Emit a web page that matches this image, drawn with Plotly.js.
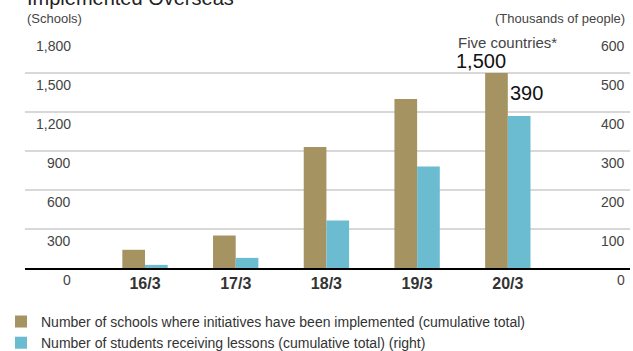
<!DOCTYPE html>
<html>
<head>
<meta charset="utf-8">
<script src="https://cdn.plot.ly/plotly-3.0.1.min.js"></script>
<style>html,body{margin:0;padding:0;background:#fff;}#chart{width:633px;height:351px;}</style>
</head>
<body>
<div id="chart"></div>
<script>
const categories = ['16/3', '17/3', '18/3', '19/3', '20/3'];
const schools = [140, 250, 930, 1300, 1500];
const students = [8, 26, 122, 260, 390];
const leftTicks = [0, 300, 600, 900, 1200, 1500, 1800];
const leftTickText = ['0', '300', '600', '900', '1,200', '1,500', '1,800'];
const rightTicks = [0, 100, 200, 300, 400, 500, 600];
const rightTickText = ['0', '100', '200', '300', '400', '500', '600'];
const schoolsName = 'Number of schools where initiatives have been implemented (cumulative total)';
const studentsName = 'Number of students receiving lessons (cumulative total) (right)';

const FONT = 'Liberation Sans, Arial, sans-serif';
const BROWN = '#a59462';
const BLUE = '#6bbcd0';

const traces = [
  {type: 'bar', x: categories, y: schools, name: schoolsName, marker: {color: BROWN},
   width: 0.25, offset: -0.25, yaxis: 'y', hoverinfo: 'skip'},
  {type: 'bar', x: categories, y: students, name: studentsName, marker: {color: BLUE},
   width: 0.25, offset: 0, yaxis: 'y2', hoverinfo: 'skip'}
];

const annotations = [];
leftTicks.forEach((v, i) => annotations.push({
  xref: 'paper', x: 0.0793, xanchor: 'right', yref: 'y', y: v, yanchor: 'middle', yshift: -12,
  text: leftTickText[i], showarrow: false, font: {family: FONT, size: 14, color: '#444'}
}));
rightTicks.forEach((v, i) => annotations.push({
  xref: 'paper', x: 0.995, xanchor: 'right', yref: 'y2', y: v, yanchor: 'middle', yshift: -12,
  text: rightTickText[i], showarrow: false, font: {family: FONT, size: 14, color: '#444'}
}));
annotations.push(
  {xref: 'paper', x: 0, xanchor: 'left', yref: 'paper', y: 1, yanchor: 'bottom', yshift: 23,
   text: 'Implemented Overseas', showarrow: false, font: {family: FONT, size: 20, color: '#222'}},
  {xref: 'paper', x: 0, xanchor: 'left', yref: 'paper', y: 1, yanchor: 'middle', yshift: 16,
   text: '(Schools)', showarrow: false, font: {family: FONT, size: 13, color: '#444'}},
  {xref: 'paper', x: 0.995, xanchor: 'right', yref: 'paper', y: 1, yanchor: 'middle', yshift: 16,
   text: '(Thousands of people)', showarrow: false, font: {family: FONT, size: 13, color: '#444'}},
  {xref: 'x', x: categories[4], xanchor: 'center', yref: 'y', y: schools[4], yanchor: 'middle', yshift: 31,
   text: 'Five countries*', showarrow: false, font: {family: FONT, size: 15, color: '#444'}},
  {xref: 'x', x: categories[4], xanchor: 'right', yref: 'y', y: schools[4], yanchor: 'bottom', yshift: -1,
   text: '1,500', showarrow: false, font: {family: FONT, size: 20, color: '#111'}},
  {xref: 'x', x: categories[4], xanchor: 'left', yref: 'y2', y: students[4], yanchor: 'bottom', yshift: 10,
   text: '390', showarrow: false, font: {family: FONT, size: 20, color: '#111'}}
);

const layout = {
  width: 633, height: 351,
  margin: {l: 25, r: 3, t: 34, b: 83, autoexpand: false},
  paper_bgcolor: '#fff', plot_bgcolor: '#fff',
  font: {family: FONT, color: '#333'},
  showlegend: true,
  legend: {orientation: 'v', x: -0.0397, xanchor: 'left', y: -0.162, yanchor: 'top',
           font: {family: FONT, size: 14, color: '#333'}, itemwidth: 30, tracegroupgap: 0,
           bgcolor: 'rgba(0,0,0,0)', traceorder: 'normal'},
  xaxis: {type: 'category', range: [-1.323, 5.347], showgrid: false, zeroline: false,
          showline: true, linecolor: '#000', linewidth: 1.5, ticks: '',
          tickfont: {family: FONT, size: 16, color: '#333', weight: 'bold'}, fixedrange: true},
  yaxis: {range: [0, 1800], tickvals: leftTicks, showticklabels: false, showgrid: true,
          gridcolor: '#d8d8d8', gridwidth: 1.5, zeroline: false, showline: false, ticks: '', fixedrange: true},
  yaxis2: {range: [0, 600], overlaying: 'y', side: 'right', showgrid: false, showticklabels: false,
           zeroline: false, showline: false, ticks: '', fixedrange: true},
  annotations: annotations,
  bargap: 0.5
};

Plotly.newPlot('chart', traces, layout, {displayModeBar: false, staticPlot: true});
</script>
</body>
</html>
